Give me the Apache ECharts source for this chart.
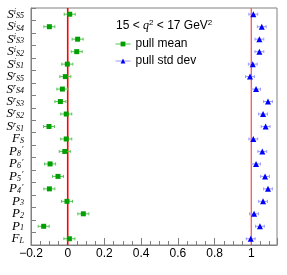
<!DOCTYPE html>
<html><head><meta charset="utf-8">
<script src="https://cdn.jsdelivr.net/npm/echarts@6/dist/echarts.min.js"></script>
<style>html,body{margin:0;padding:0;background:#fff}#c{width:287px;height:275px}</style>
</head><body><div id="c"></div>
<script>
// categories, top to bottom: base, superscript, subscript, prime
const categories = ['S^i_S5','S^i_S4','S^i_S3','S^i_S2','S^i_S1','S^r_S5','S^r_S4','S^r_S3','S^r_S2','S^r_S1','F_S',"P_8'","P_6'","P_5'","P_4'",'P_3','P_2','P_1','F_L'];
const pullMean    = [0.011,-0.100,0.054,0.049,-0.002,-0.013,-0.029,-0.040,-0.008,-0.102,-0.008,-0.016,-0.096,-0.053,-0.100,-0.004,0.085,-0.131,0.009];
const pullMeanErr = [0.030,0.030,0.030,0.030,0.030,0.030,0.030,0.030,0.030,0.030,0.030,0.030,0.030,0.030,0.030,0.030,0.030,0.030,0.030];
const pullStd     = [1.011,1.057,1.044,1.044,1.008,0.993,1.026,1.091,1.064,1.078,1.011,1.060,1.026,1.075,1.091,1.064,1.015,1.047,0.997];
const pullStdErr  = [0.024,0.024,0.024,0.024,0.024,0.024,0.024,0.024,0.024,0.024,0.024,0.024,0.024,0.024,0.024,0.024,0.024,0.024,0.024];
const refLines = [0, 1];
const refLineColors = ['#ff0000', '#ff5555'];
const refLineWidths = [1.6, 1.3];
const xTicks = {min:-0.2, max:1.14, interval:0.2};
const titleText = ['15 < ', 'q', '2', ' < 17 GeV', '2'];

function labelRich(c){
  const m = c.match(/^([A-Z])(?:\^(\w))?_(\w+)('?)$/);
  let s = '{b|' + m[1] + '}';
  if (m[2]) s += '{sp|' + m[2] + '}';
  s += '{sb|' + m[3] + '}';
  if (m[4]) s += '{pr|\u2032}';
  return s;
}
const serif = 'Liberation Serif';
const chart = echarts.init(document.getElementById('c'), null, {renderer:'canvas'});

function errSeries(name, vals, errs, color){
  return {
    type:'custom', name:name, z:2, silent:true,
    data: vals.map((v,i)=>[v-errs[i], v+errs[i], categories[i]]),
    encode:{x:[0,1], y:2},
    renderItem:function(params, api){
      const a = api.coord([api.value(0), api.value(2)]);
      const b = api.coord([api.value(1), api.value(2)]);
      const st = {stroke:color, lineWidth:1};
      return {type:'group', children:[
        {type:'line', shape:{x1:a[0],y1:a[1],x2:b[0],y2:b[1]}, style:st},
        {type:'line', shape:{x1:a[0],y1:a[1]-1.5,x2:a[0],y2:a[1]+1.5}, style:st},
        {type:'line', shape:{x1:b[0],y1:b[1]-1.5,x2:b[0],y2:b[1]+1.5}, style:st}
      ]};
    }
  };
}

chart.setOption({
  animation:false,
  backgroundColor:'#fff',
  title:{
    text: '{t|' + titleText[0] + '}{q|' + titleText[1] + '}{s|' + titleText[2] + '}{t|' + titleText[3] + '}{s|' + titleText[4] + '}',
    left:111, top:14,
    textStyle:{fontWeight:'normal', rich:{
      t:{fontFamily:'Liberation Sans', fontWeight:'normal', fontSize:12, color:'#000'},
      q:{fontFamily:serif, fontWeight:'normal', fontStyle:'italic', fontSize:12, color:'#000'},
      s:{fontFamily:'Liberation Sans', fontWeight:'normal', fontSize:8, color:'#000', verticalAlign:'top', padding:[0,0,6,0]}
    }}
  },
  legend:{
    orient:'vertical', left:110, top:33, itemGap:5, itemWidth:15, itemHeight:6,
    textStyle:{fontFamily:'Liberation Sans', fontSize:12, color:'#000'},
    data:[
      {name:'pull mean', itemStyle:{color:'#00a000'}, lineStyle:{color:'#55c455', width:1, opacity:1}},
      {name:'pull std dev', itemStyle:{color:'#0000ff'}, lineStyle:{color:'#9999ff', width:1, opacity:1}}
    ]
  },
  grid:{left:31, right:10, top:8, bottom:30, show:true, borderColor:'#808080', borderWidth:1, backgroundColor:'transparent'},
  xAxis:{
    type:'value', min:xTicks.min, max:xTicks.max, interval:xTicks.interval,
    axisLine:{show:true, onZero:false, lineStyle:{color:'#808080'}},
    axisTick:{show:true, inside:true, length:7, lineStyle:{color:'#808080'}},
    minorTick:{show:true, splitNumber:4, length:4, lineStyle:{color:'#808080'}},
    splitLine:{show:false},
    axisLabel:{showMaxLabel:false, margin:3, fontFamily:'Liberation Sans', fontSize:12, color:'#000',
      formatter:v=>String(+v.toFixed(2)).replace('-', '\u2212')}
  },
  yAxis:{
    type:'category', data:categories, inverse:true,
    axisLine:{show:true, onZero:false, lineStyle:{color:'#808080'}},
    axisTick:{show:true, inside:true, length:5, lineStyle:{color:'#808080'}},
    splitLine:{show:false},
    axisLabel:{interval:0, hideOverlap:false, margin:7, formatter:labelRich, rich:{
      b:{fontFamily:serif, fontStyle:'italic', fontSize:13, color:'#000', lineHeight:12},
      sp:{fontFamily:serif, fontStyle:'italic', fontSize:8, color:'#000', lineHeight:8, verticalAlign:'top', padding:[0,0,10,0]},
      sb:{fontFamily:serif, fontStyle:'italic', fontSize:8, color:'#000', lineHeight:8, verticalAlign:'bottom', padding:[11,0,0,0]},
      pr:{fontFamily:serif, fontSize:9, color:'#000', lineHeight:8, verticalAlign:'top', padding:[0,0,10,1]}
    }}
  },
  series:[
    {
      type:'custom', name:'refLines', z:1, silent:true,
      data: refLines.map((x,i)=>[x, categories[0], i]),
      encode:{x:0, y:1},
      renderItem:function(params, api){
        const p = api.coord([api.value(0), api.value(1)]);
        const cs = params.coordSys;
        const k = api.value(2);
        return {type:'line', shape:{x1:p[0], y1:cs.y, x2:p[0], y2:cs.y+cs.height},
          style:{stroke:refLineColors[k], lineWidth:refLineWidths[k]}};
      }
    },
    errSeries('errMean', pullMean, pullMeanErr, '#55c455'),
    errSeries('errStd', pullStd, pullStdErr, '#9999ff'),
    {
      name:'pull mean', type:'line', z:3, symbol:'rect', symbolSize:5, showSymbol:true, showAllSymbol:true,
      lineStyle:{opacity:0}, itemStyle:{color:'#00a000'},
      data: pullMean.map((v,i)=>[v, categories[i]])
    },
    {
      name:'pull std dev', type:'line', z:3, symbol:'triangle', symbolSize:6, showSymbol:true, showAllSymbol:true,
      lineStyle:{opacity:0}, itemStyle:{color:'#0000ff'},
      data: pullStd.map((v,i)=>[v, categories[i]])
    }
  ]
});
</script></body></html>
